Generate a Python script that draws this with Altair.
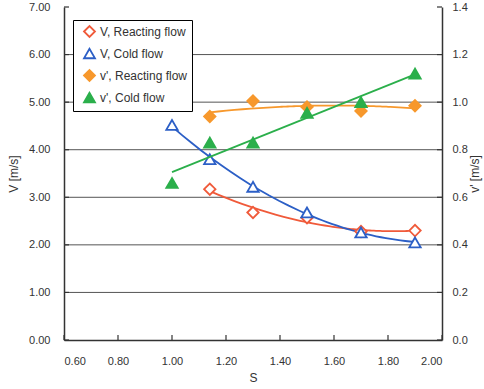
import altair as alt
import pandas as pd

# ---- data ----
S_V_react = [1.14, 1.30, 1.50, 1.70, 1.90]
V_react = [3.17, 2.68, 2.57, 2.28, 2.30]
S_V_cold = [1.00, 1.14, 1.30, 1.50, 1.70, 1.90]
V_cold = [4.52, 3.80, 3.22, 2.68, 2.26, 2.05]
S_v_react = [1.14, 1.30, 1.50, 1.70, 1.90]
v_react = [0.94, 1.005, 0.98, 0.963, 0.985]
S_v_cold = [1.00, 1.14, 1.30, 1.50, 1.70, 1.90]
v_cold = [0.66, 0.83, 0.83, 0.955, 1.00, 1.12]

names = ["V, Reacting flow", "V, Cold flow", "v', Reacting flow", "v', Cold flow"]
colors = ["#F05A3A", "#2C5FC6", "#F7982C", "#2BAF4B"]
fills = ["white", "white", "#F7982C", "#2BAF4B"]
shapes = ["diamond", "triangle-up", "diamond", "triangle-up"]

x_ticks = [0.6, 0.8, 1.0, 1.2, 1.4, 1.6, 1.8, 2.0]
V_ticks = [0, 1, 2, 3, 4, 5, 6, 7]
V_grid = [1, 2, 3, 4, 5, 6]
vp_ticks = [0.0, 0.2, 0.4, 0.6, 0.8, 1.0, 1.2, 1.4]

W, H = 378, 333
FONT = "Liberation Sans"
AXC = "#333333"

xenc = alt.X("S:Q", scale=alt.Scale(domain=[0.6, 2.0], nice=False, zero=False),
             axis=alt.Axis(values=x_ticks, format=".2f", title="S", grid=False, ticks=False,
                           domainColor=AXC, domainWidth=1.5, labelPadding=15, titlePadding=6))
yL = alt.Y("V:Q", scale=alt.Scale(domain=[0, 7], nice=False),
           axis=alt.Axis(values=V_ticks, format=".2f", title="V [m/s]", grid=False, ticks=False,
                         orient="left", domainColor=AXC, domainWidth=1.5, labelPadding=14,
                         titlePadding=8))
yR = alt.Y("vp:Q", scale=alt.Scale(domain=[0, 1.4], nice=False),
           axis=alt.Axis(values=vp_ticks, format=".1f", title="v' [m/s]", grid=False, ticks=False,
                         orient="right", domainColor=AXC, domainWidth=1.5, labelPadding=10,
                         titlePadding=14, titleAngle=270))

leg = alt.Legend(orient="none", legendX=9, legendY=13, strokeColor="black", fillColor="white",
                 padding=5, rowPadding=4, labelFontSize=12, labelFont=FONT, labelColor=AXC,
                 symbolSize=120, symbolStrokeWidth=1.8, labelOffset=4, symbolOffset=5)


def style_enc():
    return dict(
        shape=alt.Shape("series:N", title=None, scale=alt.Scale(domain=names, range=shapes), legend=leg),
        stroke=alt.Stroke("series:N", title=None, scale=alt.Scale(domain=names, range=colors), legend=leg),
        fill=alt.Fill("series:N", title=None, scale=alt.Scale(domain=names, range=fills), legend=leg),
    )


dVr = pd.DataFrame({"S": S_V_react, "V": V_react, "series": names[0]})
dVc = pd.DataFrame({"S": S_V_cold, "V": V_cold, "series": names[1]})
dvr = pd.DataFrame({"S": S_v_react, "vp": v_react, "series": names[2]})
dvc = pd.DataFrame({"S": S_v_cold, "vp": v_cold, "series": names[3]})

grid = alt.Chart(pd.DataFrame({"V": V_grid})).mark_rule(color="#555555", strokeWidth=1).encode(
    y=yL, x=alt.value(0), x2=alt.value(W))
ticksL = alt.Chart(pd.DataFrame({"V": V_ticks})).mark_rule(color=AXC, strokeWidth=1.2).encode(
    y=yL, x=alt.value(0), x2=alt.value(5))
ticksB = alt.Chart(pd.DataFrame({"S": x_ticks})).mark_rule(color=AXC, strokeWidth=1.2).encode(
    x=xenc, y=alt.value(H), y2=alt.value(H - 5))

lineVr = alt.Chart(dVr).transform_regression("S", "V", method="poly", order=2).mark_line(
    color=colors[0], strokeWidth=1.8).encode(x=xenc, y=yL)
lineVc = alt.Chart(dVc).transform_regression("S", "V", method="poly", order=2).mark_line(
    color=colors[1], strokeWidth=1.8).encode(x=xenc, y=yL)
ptsV = alt.Chart(pd.concat([dVr, dVc])).mark_point(opacity=1, strokeWidth=1.8, size=130).encode(
    x=xenc, y=yL, **style_enc())

left = alt.layer(grid, ticksL, ticksB, lineVr, lineVc, ptsV)

ticksR = alt.Chart(pd.DataFrame({"vp": vp_ticks})).mark_rule(color=AXC, strokeWidth=1.2).encode(
    y=yR, x=alt.value(W - 5), x2=alt.value(W))
linevr = alt.Chart(dvr).transform_regression("S", "vp", method="poly", order=2).mark_line(
    color=colors[2], strokeWidth=1.8).encode(x=xenc, y=yR)
linevc = alt.Chart(dvc).transform_regression("S", "vp", method="linear").mark_line(
    color=colors[3], strokeWidth=1.8).encode(x=xenc, y=yR)
ptsv = alt.Chart(pd.concat([dvr, dvc])).mark_point(opacity=1, strokeWidth=1.8, size=130).encode(
    x=xenc, y=yR, **style_enc())

right = alt.layer(ticksR, linevr, linevc, ptsv)

chart = alt.layer(left, right).resolve_scale(y="independent").properties(
    width=W, height=H, autosize="none",
    padding={"left": 64, "top": 7, "right": 42, "bottom": 49},
).configure_view(stroke=None).configure_axis(
    labelFont=FONT, labelFontSize=11, labelColor=AXC,
    titleFont=FONT, titleFontSize=12, titleFontWeight="normal", titleColor=AXC,
)

chart.save("out.html", embed_options={"renderer": "svg", "actions": False})
